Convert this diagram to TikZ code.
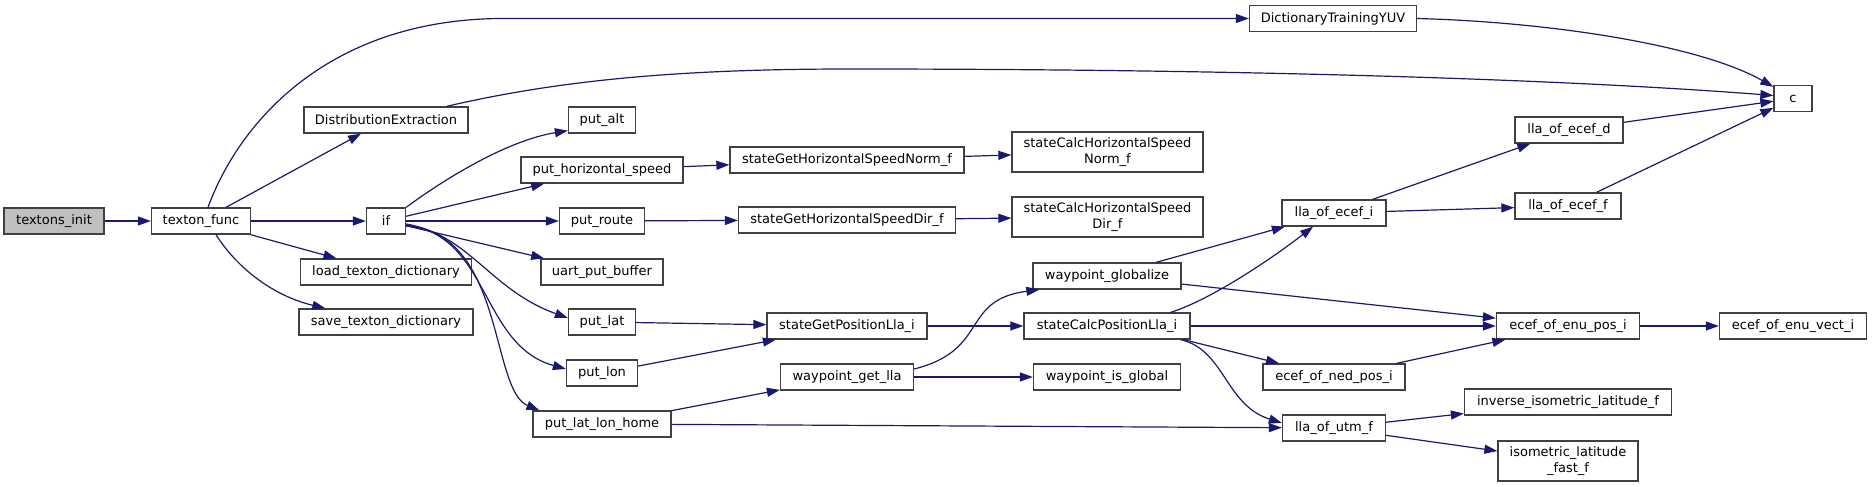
\documentclass[tikz,border=0pt]{standalone}
\usepackage{fontspec}
\setmainfont{DejaVu Sans}
\usepackage{tikz}
\usetikzlibrary{arrows.meta}
\definecolor{callblue}{HTML}{191970}
\definecolor{fnframe}{HTML}{404040}
\definecolor{fnroot}{HTML}{BFBFBF}

\begin{document}
\begin{tikzpicture}[x=1pt, y=-1pt,
  fn/.style={draw=fnframe, fill=white, line width=1.3pt, minimum height=26pt,
    inner sep=0pt, align=center, font=\fontsize{13}{15.5}\selectfont},
  fn2/.style={fn, minimum height=40pt},
  call/.style={draw=callblue, line width=1.2pt, -{Triangle[length=13pt,width=9pt]}}]
  \useasboundingbox (0,0) rectangle (1872,487);

  \node[fn, fill=fnroot, minimum width=100pt] (init) at (54,221) {textons\_init};
  \node[fn, minimum width=99pt] (func) at (201,221) {texton\_func};
  \node[fn, minimum width=167pt] (dict) at (1333,18.5) {DictionaryTrainingYUV};
  \node[fn, minimum width=164pt] (distr) at (386,120) {DistributionExtraction};
  \node[fn, minimum width=39pt] (nif) at (386,221) {if};
  \node[fn, minimum width=171pt] (load) at (386,272) {load\_texton\_dictionary};
  \node[fn, minimum width=174pt] (save) at (386,322) {save\_texton\_dictionary};
  \node[fn, minimum width=38pt] (c) at (1793,98.5) {c};
  \node[fn, minimum width=67pt] (alt) at (602,120) {put\_alt};
  \node[fn, minimum width=162pt] (hspeed) at (602,170) {put\_horizontal\_speed};
  \node[fn, minimum width=85pt] (route) at (602,221) {put\_route};
  \node[fn, minimum width=122pt] (uart) at (602,272) {uart\_put\_buffer};
  \node[fn, minimum width=67pt] (lat) at (602,322) {put\_lat};
  \node[fn, minimum width=71pt] (lon) at (602,373) {put\_lon};
  \node[fn, minimum width=138pt] (home) at (602,424) {put\_lat\_lon\_home};
  \node[fn, minimum width=234pt] (getnorm) at (847,160) {stateGetHorizontalSpeedNorm\_f};
  \node[fn2, minimum width=191pt] (calcnorm) at (1107.5,152) {stateCalcHorizontalSpeed\\Norm\_f};
  \node[fn, minimum width=217pt] (getdir) at (847,220) {stateGetHorizontalSpeedDir\_f};
  \node[fn2, minimum width=191pt] (calcdir) at (1107.5,217) {stateCalcHorizontalSpeed\\Dir\_f};
  \node[fn, minimum width=160pt] (getpos) at (847,326) {stateGetPositionLla\_i};
  \node[fn, minimum width=133pt] (wplla) at (847,377) {waypoint\_get\_lla};
  \node[fn, minimum width=148pt] (wpglob) at (1107,276) {waypoint\_globalize};
  \node[fn, minimum width=166pt] (calcpos) at (1107,326) {stateCalcPositionLla\_i};
  \node[fn, minimum width=147pt] (wpisg) at (1107,377) {waypoint\_is\_global};
  \node[fn, minimum width=104pt] (llai) at (1334,213) {lla\_of\_ecef\_i};
  \node[fn, minimum width=108pt] (llad) at (1569,130) {lla\_of\_ecef\_d};
  \node[fn, minimum width=106pt] (llaf) at (1568,206) {lla\_of\_ecef\_f};
  \node[fn, minimum width=142pt] (nedpos) at (1334,377) {ecef\_of\_ned\_pos\_i};
  \node[fn, minimum width=103pt] (utm) at (1334,428) {lla\_of\_utm\_f};
  \node[fn, minimum width=143pt] (enupos) at (1568,326) {ecef\_of\_enu\_pos\_i};
  \node[fn, minimum width=147pt] (enuvect) at (1793,326) {ecef\_of\_enu\_vect\_i};
  \node[fn, minimum width=207pt] (invlat) at (1568,402) {inverse\_isometric\_latitude\_f};
  \node[fn2, minimum width=140pt] (isolat) at (1568,461) {isometric\_latitude\\\_fast\_f};

  \draw[call] (init) -- (func);
  \draw[call] ([xshift=7pt]func.north) .. controls (240,120) and (330,20) .. (500,18.5) -- (dict);
  \draw[call] (func) -- (distr);
  \draw[call] (func) -- (nif);
  \draw[call] (func) -- (load);
  \draw[call] ([xshift=15pt]func.south) .. controls (235,265) and (270,295) .. ([xshift=27pt]save.north west);
  \draw[call] (dict.east) .. controls (1550,22) and (1700,45) .. ([yshift=-2pt]c.north west);
  \draw[call] ([xshift=-22pt]distr.north east) .. controls (560,80) and (680,69) .. (850,69)
    .. controls (1300,69) and (1600,82) .. ([yshift=3pt]c.west);
  \draw[call] (nif.north east) .. controls (450,175) and (510,140) .. ([yshift=3pt]alt.south west);
  \draw[call] (nif) -- (hspeed);
  \draw[call] (nif) -- (route);
  \draw[call] (nif) -- (uart);
  \draw[call] ([yshift=-3pt]nif.east) .. controls (470,235) and (490,290) .. ([yshift=4pt]lat.west);
  \draw[call] ([yshift=-4pt]nif.east) .. controls (490,235) and (480,345) .. ([yshift=4pt]lon.west);
  \draw[call] ([yshift=-5pt]nif.east) .. controls (505,232) and (490,390) .. ([xshift=7pt]home.north west);
  \draw[call] (hspeed) -- (getnorm);
  \draw[call] (getnorm) -- (calcnorm);
  \draw[call] (route) -- (getdir);
  \draw[call] (getdir) -- (calcdir);
  \draw[call] (lat) -- (getpos);
  \draw[call] (lon) -- (getpos);
  \draw[call] (home) -- (wplla);
  \draw[call] (home) -- (utm);
  \draw[call] (getpos) -- (calcpos);
  \draw[call] ([yshift=8pt]wplla.east) .. controls (990,350) and (960,300) .. ([xshift=7pt]wpglob.south west);
  \draw[call] (wplla) -- (wpisg);
  \draw[call] (wpglob) -- (llai);
  \draw[call] (wpglob) -- (enupos);
  \draw[call] ([xshift=-20pt]calcpos.north east) .. controls (1210,300) and (1270,260) .. ([xshift=-21pt]llai.south);
  \draw[call] (calcpos) -- (enupos);
  \draw[call] ([xshift=-7pt]calcpos.south east) -- (nedpos);
  \draw[call] ([xshift=-10pt]calcpos.south east) .. controls (1225,350) and (1225,405) .. ([yshift=5pt]utm.west);
  \draw[call] (llai) -- (llad);
  \draw[call] (llai) -- (llaf);
  \draw[call] (llad) -- (c);
  \draw[call] (llaf) -- (c);
  \draw[call] (nedpos) -- (enupos);
  \draw[call] (enupos) -- (enuvect);
  \draw[call] (utm) -- (invlat);
  \draw[call] (utm) -- (isolat);
\end{tikzpicture}
\end{document}
